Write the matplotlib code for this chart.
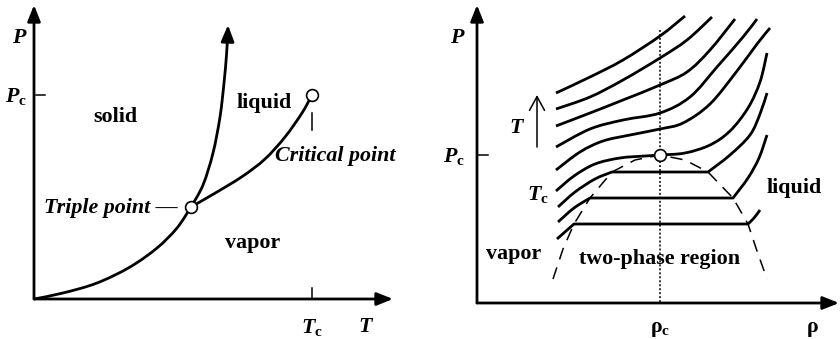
import matplotlib
matplotlib.use('Agg')
import matplotlib.pyplot as plt
from matplotlib.path import Path
from matplotlib.patches import PathPatch

plt.rcParams['font.family'] = ['Liberation Serif', 'DejaVu Serif']
plt.rcParams['mathtext.fontset'] = 'custom'
plt.rcParams['mathtext.rm'] = 'Liberation Serif:bold'
plt.rcParams['mathtext.it'] = 'Liberation Serif:italic:bold'
plt.rcParams['mathtext.bf'] = 'Liberation Serif:bold'

# ---------------- data (canvas coordinates, y grows downward) ----------------
# Left panel: P-T phase diagram
left_origin = (34, 299)
left_y_tip = (34, 5)
left_x_tip = (393, 299)
sublimation_x = [34, 63, 97, 130, 157, 177, 191]
sublimation_y = [299, 293, 283, 267, 248, 228, 207]
melting_x = [191, 203, 213, 220, 224, 226.5, 227.6]
melting_y = [207, 185, 153, 117, 83, 55, 36]
melting_tip = (228, 25)
vaporization_x = [191, 217, 243, 265, 285, 302, 312]
vaporization_y = [207, 192, 176, 159, 137, 113, 95]
triple_point = (191, 207)
critical_point_L = (312, 95)
Tc_left = 312
Pc_left = 95

# Right panel: P-rho isotherms (ties = horizontal two-phase segments)
right_origin = (477, 303)
right_y_tip = (477, 5)
right_x_tip = (839, 303)
rho_c = 660
Pc_right = 155
critical_point_R = (660, 155)

isotherm_x = [
    [556, 590, 623, 660, 685],
    [556, 590, 623, 660, 687, 712],
    [556, 590, 623, 660, 687, 710, 735],
    [556, 590, 623, 660, 690, 717, 743, 757],
    [556, 580, 603, 630, 660, 683, 710, 737, 757, 770],
    [556, 574, 595, 620, 645, 660, 685, 710, 730, 748, 760, 767],
    [558, 575, 595, 612, 708, 730, 750, 760, 767],
    [558, 574, 590, 733, 748, 759, 767],
    [557, 566, 574, 748, 754, 760],
]
isotherm_y = [
    [93, 77, 60, 36, 16],
    [109, 97, 80, 58, 40, 17],
    [126, 113, 100, 85, 72, 50, 19],
    [147, 129, 120, 113, 97, 67, 37, 19],
    [170, 152, 141, 135, 129, 123, 104, 71, 44, 28],
    [191, 176, 164, 158, 156, 155, 153, 145, 131, 108, 82, 53],
    [207, 192, 179, 172, 172, 155, 135, 114, 93],
    [222, 208, 198, 198, 178, 158, 135],
    [239, 231, 224, 224, 218, 210],
]
# indices where the isotherm has a sharp corner (ends of the tie line)
isotherm_corners = [[], [], [], [], [], [], [3, 4], [2, 3], [2, 3]]

coex_x = [553, 563, 574, 590, 612, 635, 660, 685, 708, 733, 748, 757, 767]
coex_y = [279, 249, 224, 198, 172, 160, 155, 160, 172, 198, 224, 251, 279]
T_arrow_x = 537
T_arrow_y = (147, 95)

# ---------------- figure ----------------
fig = plt.figure(figsize=(8.4, 3.39), dpi=100)
ax = fig.add_axes([0, 0, 1, 1])
ax.set_xlim(0, 840)
ax.set_ylim(339, 0)
ax.axis('off')

LW = 2.0
FS = 15.8
axis_arrow = dict(arrowstyle='-|>,head_length=0.75,head_width=0.3', lw=LW,
                  color='k', shrinkA=0, shrinkB=0, mutation_scale=13)


def smooth_curve(xs, ys, corners=(), lw=LW, **kw):
    """Draw a smooth curve through the given points as Bezier segments."""
    pts = list(zip(xs, ys))
    breaks = [0] + [c for c in corners] + [len(pts) - 1]
    verts, codes = [pts[0]], [Path.MOVETO]
    for a, b in zip(breaks[:-1], breaks[1:]):
        piece = pts[a:b + 1]
        n = len(piece) - 1
        for i in range(n):
            p0 = piece[i - 1] if i > 0 else piece[i]
            p1, p2 = piece[i], piece[i + 1]
            p3 = piece[i + 2] if i + 2 <= n else piece[i + 1]
            c1 = (p1[0] + (p2[0] - p0[0]) / 6, p1[1] + (p2[1] - p0[1]) / 6)
            c2 = (p2[0] - (p3[0] - p1[0]) / 6, p2[1] - (p3[1] - p1[1]) / 6)
            verts += [c1, c2, p2]
            codes += [Path.CURVE4] * 3
    ax.add_patch(PathPatch(Path(verts, codes), fill=False, lw=lw, ec='k',
                           joinstyle='round', capstyle='butt', **kw))


def axis_arrow_to(tip, start):
    ax.annotate('', xy=tip, xytext=start, arrowprops=axis_arrow)


# ---- left panel ----
axis_arrow_to(left_y_tip, left_origin)
axis_arrow_to(left_x_tip, left_origin)
smooth_curve(sublimation_x, sublimation_y)
smooth_curve(melting_x, melting_y)
ax.annotate('', xy=melting_tip, xytext=(melting_x[-1], melting_y[-1] + 4),
            arrowprops=axis_arrow)
smooth_curve(vaporization_x, vaporization_y)
ax.plot([left_origin[0] + 2, left_origin[0] + 11], [Pc_left, Pc_left], color='k', lw=1.1)
ax.plot([Tc_left, Tc_left], [left_origin[1] - 11, left_origin[1]], color='k', lw=1.1)
ax.plot([Tc_left, Tc_left], [Pc_left + 18, Pc_left + 35], color='k', lw=1.1)
ax.plot(*triple_point, 'o', ms=8.5, mfc='white', mec='k', mew=1.2, zorder=5)
ax.plot(*critical_point_L, 'o', ms=8.5, mfc='white', mec='k', mew=1.2, zorder=5)

ax.text(20, 43, r'$P$', fontsize=FS, ha='center', va='baseline')
ax.text(27, 102, r'$P_{\mathrm{c}}$', fontsize=FS, ha='right', va='baseline')
ax.text(Tc_left, 333, r'$T_{\mathrm{c}}$', fontsize=FS, ha='center', va='baseline')
ax.text(366, 332, r'$T$', fontsize=FS, ha='center', va='baseline')
ax.text(115, 122, 'solid', fontsize=FS, weight='bold', ha='center', va='baseline')
ax.text(264, 108, 'liquid', fontsize=FS, weight='bold', ha='center', va='baseline')
ax.text(275, 161, 'Critical point', fontsize=FS, weight='bold', style='italic',
        ha='left', va='baseline')
ax.text(178, 213, 'Triple point \u2014', fontsize=FS, weight='bold', style='italic',
        ha='right', va='baseline')
ax.text(253, 248, 'vapor', fontsize=FS, weight='bold', ha='center', va='baseline')

# ---- right panel ----
axis_arrow_to(right_y_tip, right_origin)
axis_arrow_to(right_x_tip, right_origin)
ax.plot([rho_c, rho_c], [30, right_origin[1]], color='k', lw=1.1, ls=(0, (1.3, 1.3)))
ax.plot([right_origin[0], right_origin[0] + 11], [Pc_right, Pc_right], color='k', lw=1.1)
for xs, ys, cs in zip(isotherm_x, isotherm_y, isotherm_corners):
    smooth_curve(xs, ys, cs)
ax.plot(coex_x, coex_y, color='k', lw=1.1, ls=(0, (8, 5.5)))
ax.plot(*critical_point_R, 'o', ms=8.5, mfc='white', mec='k', mew=1.2, zorder=5)
ax.annotate('', xy=(T_arrow_x, T_arrow_y[1]), xytext=(T_arrow_x, T_arrow_y[0]),
            arrowprops=dict(arrowstyle='->,head_length=0.55,head_width=0.3', lw=1.1,
                            color='k', shrinkA=0, shrinkB=0, mutation_scale=18))

ax.text(458, 43, r'$P$', fontsize=FS, ha='center', va='baseline')
ax.text(465, 162, r'$P_{\mathrm{c}}$', fontsize=FS, ha='right', va='baseline')
ax.text(549, 200, r'$T_{\mathrm{c}}$', fontsize=FS, ha='right', va='baseline')
ax.text(517, 133, r'$T$', fontsize=FS, ha='center', va='baseline')
ax.text(794, 193, 'liquid', fontsize=FS, weight='bold', ha='center', va='baseline')
ax.text(514, 259, 'vapor', fontsize=FS, weight='bold', ha='center', va='baseline')
ax.text(660, 264, 'two-phase region', fontsize=FS, weight='bold', ha='center', va='baseline')
ax.text(rho_c, 332, '\u03c1$_{\\mathrm{c}}$', fontsize=FS, weight='bold', ha='center', va='baseline')
ax.text(813, 332, '\u03c1', fontsize=FS, weight='bold', ha='center', va='baseline')

fig.savefig('out.png', dpi=100)
